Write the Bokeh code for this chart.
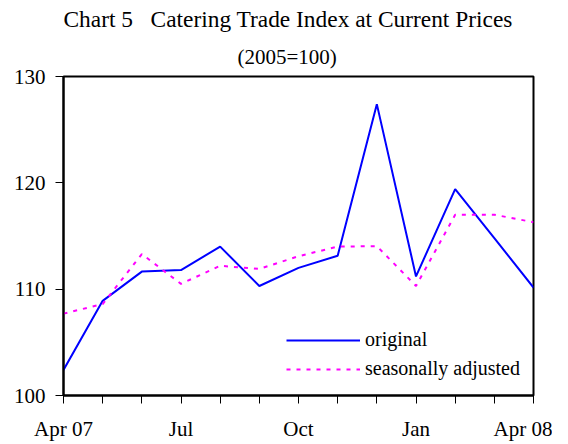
from bokeh.plotting import figure
from bokeh.models import Title, FixedTicker, Legend, LegendItem
from bokeh.embed import file_html
from bokeh.resources import INLINE

months = list(range(13))
tick_labels = {0: "Apr 07", 3: "Jul", 6: "Oct", 9: "Jan", 12: "Apr 08"}
original = [102.4, 108.9, 111.65, 111.8, 114.0, 110.3, 112.0, 113.15, 127.4, 111.2, 119.4, 114.8, 110.15]
seasonal = [107.7, 108.6, 113.3, 110.5, 112.2, 111.9, 113.1, 114.0, 114.05, 110.3, 117.0, 117.0, 116.3]

FONT = "Liberation Serif"

p = figure(width=552, height=443, output_backend="svg", toolbar_location=None,
           x_range=(0, 12), y_range=(100, 130),
           min_border_left=63, min_border_right=19, min_border_top=75, min_border_bottom=48)
p.background_fill_color = "white"
p.border_fill_color = "white"
p.outline_line_color = "black"
p.outline_line_width = 2
p.xgrid.visible = False
p.ygrid.visible = False

p.add_layout(Title(text="(2005=100)", align="left", offset=174, text_font=FONT,
                   text_font_size="21px", text_font_style="normal", text_color="black",
                   standoff=15), "above")
p.add_layout(Title(text="Chart 5\u00a0\u00a0\u00a0Catering Trade Index at Current Prices", align="left", offset=0,
                   text_font=FONT, text_font_size="23.4px", text_font_style="normal",
                   text_color="black", standoff=7), "above")

l1 = p.line(months, original, line_color="#0000FF", line_width=2)
l2 = p.line(months, seasonal, line_color="#FF00FF", line_width=2, line_dash="4 6")

xa = p.xaxis[0]
xa.ticker = FixedTicker(ticks=months)
xa.major_label_overrides = {m: tick_labels.get(m, "") for m in months}
xa.major_label_text_font = FONT
xa.major_label_text_font_size = "21px"
xa.major_label_text_color = "black"
xa.major_tick_out = 8
xa.major_tick_in = 0
xa.minor_tick_out = 0
xa.major_label_standoff = 13
xa.axis_line_color = "black"
xa.axis_line_width = 2

ya = p.yaxis[0]
ya.ticker = FixedTicker(ticks=[100, 110, 120, 130])
ya.major_label_text_font = FONT
ya.major_label_text_font_size = "21px"
ya.major_label_text_color = "black"
ya.major_tick_out = 8
ya.major_tick_in = 0
ya.minor_tick_out = 0
ya.major_label_standoff = 10
ya.axis_line_color = "black"
ya.axis_line_width = 2

legend = Legend(items=[LegendItem(label="original", renderers=[l1]),
                       LegendItem(label="seasonally adjusted", renderers=[l2])],
                location=(223, 15), border_line_color=None, background_fill_alpha=0,
                label_text_font=FONT, label_text_font_size="20px", label_text_color="black",
                glyph_width=74, glyph_height=20, label_height=20, label_standoff=5,
                spacing=6, padding=2, margin=0)
p.add_layout(legend)

open("out.html", "w").write(file_html(p, INLINE))
